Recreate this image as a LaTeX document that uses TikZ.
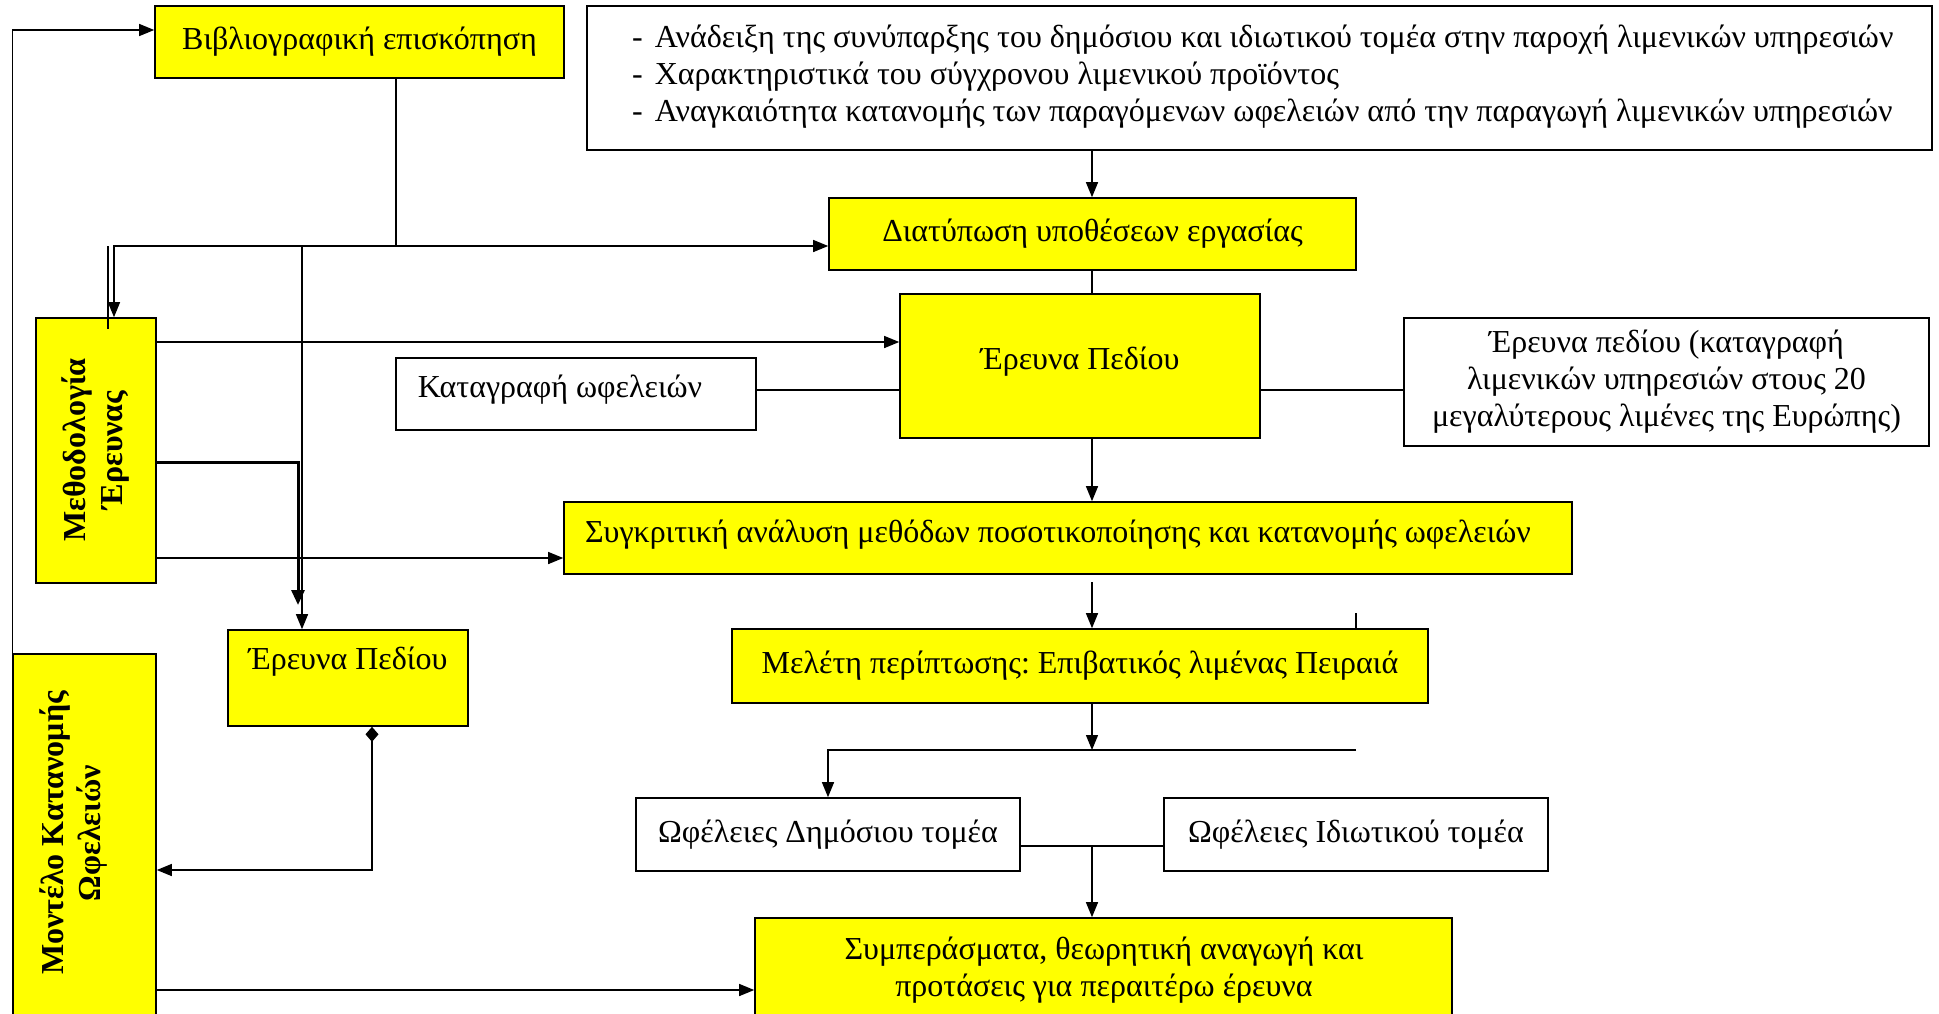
\documentclass[tikz,border=0pt]{standalone}
\usepackage{fontspec}
\setmainfont{Liberation Serif}
\usetikzlibrary{arrows.meta}
\definecolor{boxyellow}{RGB}{255,255,0}
\newcommand\diagfont{\fontsize{32}{37}\selectfont}
\frenchspacing
\begin{document}
\begin{tikzpicture}[x=1pt,y=-1pt,
  box/.style={draw,line width=1.6pt,inner sep=0pt,align=center,font=\diagfont},
  ybox/.style={box,fill=boxyellow},
  wbox/.style={box,fill=white},
  txt/.style={inner sep=0pt,align=center,font=\diagfont},
  vtxt/.style={txt,rotate=90,font=\diagfont\bfseries},
  conn/.style={line width=1.3pt},
  arr/.style={conn,-{Triangle[length=15pt,width=12pt]}},
  thickarr/.style={line width=3pt,-{Triangle[length=15pt,width=13pt]}},
  diaarr/.style={conn,{Diamond[length=15pt,width=13pt]}-{Triangle[length=15pt,width=12pt]}}]
\useasboundingbox (0,0) rectangle (1939,1013);
\fill[white] (0,0) rectangle (1939,1013);
\clip (0,0) rectangle (1939,1013);

% boxes
\node[ybox,minimum width=409pt,minimum height=72pt] (bib) at (359.5,42) {Βιβλιογραφική επισκόπηση};
\node[wbox,minimum width=1345pt,minimum height=144pt] (top) at (1259.5,78) {};
\node[txt,anchor=west,align=left] (topT) at (632,77)
  {-\hspace{12pt}Ανάδειξη της συνύπαρξης του δημόσιου και ιδιωτικού τομέα στην παροχή λιμενικών υπηρεσιών\\
   -\hspace{12pt}Χαρακτηριστικά του σύγχρονου λιμενικού προϊόντος\\
   -\hspace{12pt}Αναγκαιότητα κατανομής των παραγόμενων ωφελειών από την παραγωγή λιμενικών υπηρεσιών};
\node[ybox,minimum width=527pt,minimum height=72pt] (dia) at (1092.5,234) {Διατύπωση υποθέσεων εργασίας};
\node[ybox,minimum width=120pt,minimum height=265pt] (met) at (96,450.5) {};
\node[vtxt] (metT) at (96,450) {Μεθοδολογία\\Έρευνας};
\node[ybox,minimum width=360pt,minimum height=144pt] (ep) at (1080,366) {};
\node[txt] (epT) at (1080,362) {Έρευνα Πεδίου};
\node[wbox,minimum width=360pt,minimum height=72pt] (kat) at (576,394) {};
\node[txt] (katT) at (560,390) {Καταγραφή ωφελειών};
\node[wbox,minimum width=525pt,minimum height=128pt] (rb) at (1666.5,382)
  {Έρευνα πεδίου (καταγραφή\\λιμενικών υπηρεσιών στους 20\\μεγαλύτερους λιμένες της Ευρώπης)};
\node[ybox,minimum width=1008pt,minimum height=72pt] (syn) at (1068,538) {};
\node[txt] (synT) at (1058,535) {Συγκριτική ανάλυση μεθόδων ποσοτικοποίησης και κατανομής ωφελειών};
\node[ybox,minimum width=240pt,minimum height=96pt] (ep2) at (348,678) {};
\node[txt] (ep2T) at (348,662) {Έρευνα Πεδίου};
\node[ybox,minimum width=143pt,minimum height=364pt] (mon) at (84.5,836) {};
\node[vtxt] (monT) at (74,833) {Μοντέλο Κατανομής\\Ωφελειών};
\node[ybox,minimum width=696pt,minimum height=74pt] (mel) at (1080,666) {Μελέτη περίπτωσης: Επιβατικός λιμένας Πειραιά};
\node[wbox,minimum width=384pt,minimum height=73pt] (dim) at (828,834.5) {Ωφέλειες Δημόσιου τομέα};
\node[wbox,minimum width=384pt,minimum height=73pt] (idi) at (1356,834.5) {Ωφέλειες Ιδιωτικού τομέα};
\node[ybox,minimum width=697pt,minimum height=100pt] (sym) at (1103.5,968) {};
\node[txt] (symT) at (1104,970) {Συμπεράσματα, θεωρητική αναγωγή και\\προτάσεις για περαιτέρω έρευνα};

% junction points and rows of the connectors
\coordinate (j1) at (396,246);
\coordinate (j2) at (302,246);
\coordinate (tk) at (298,605);
\coordinate (sp) at (1092,0);
\coordinate (synGap) at (1092,582);
\coordinate (stray) at (1356,613);
\coordinate (rowM1) at (0,342);
\coordinate (rowM2) at (0,462);
\coordinate (rowM3) at (0,558);
\coordinate (rowK) at (0,390);
\coordinate (rowSplit) at (0,750);
\coordinate (rowPair) at (0,846);
\coordinate (rowMon1) at (0,870);
\coordinate (rowMon2) at (0,990);

% connectors
\draw[arr] (mon.north west) |- ([yshift=12pt]bib.west);
\draw[conn] ([xshift=36.5pt]bib.south) -- (j1);
\draw[arr] (j1) -- (dia.west |- j1);
\draw[arr] (j1) -| ([xshift=18pt]met.north);
\draw[conn] ([xshift=12pt]met.north |- j1) -- ([xshift=12pt,yshift=-12pt]met.north);
\draw[arr] (j2) -- (j2 |- ep2.north);
\draw[arr] (met.east |- rowM1) -- (ep.west |- rowM1);
\draw[thickarr] (met.east |- rowM2) -| (tk);
\draw[arr] (met.east |- rowM3) -- (syn.west |- rowM3);
\draw[conn] (kat.east |- rowK) -- (ep.west |- rowK);
\draw[conn] (ep.east |- rowK) -- (rb.west |- rowK);
\draw[arr] (top.south -| sp) -- (dia.north -| sp);
\draw[conn] (dia.south -| sp) -- (ep.north -| sp);
\draw[arr] (ep.south -| sp) -- (syn.north -| sp);
\draw[arr] (synGap) -- (mel.north -| sp);
\draw[conn] (stray) -- (stray |- mel.north);
\draw[arr] (mel.south -| sp) -- (sp |- rowSplit);
\draw[arr] (stray |- rowSplit) -| (dim.north);
\draw[conn] (dim.east |- rowPair) -- (idi.west |- rowPair);
\draw[arr] (sp |- rowPair) -- (sym.north -| sp);
\draw[arr] (mon.east |- rowMon2) -- (sym.west |- rowMon2);
\draw[diaarr] ([xshift=24pt]ep2.south) |- (mon.east |- rowMon1);
\end{tikzpicture}
\end{document}
